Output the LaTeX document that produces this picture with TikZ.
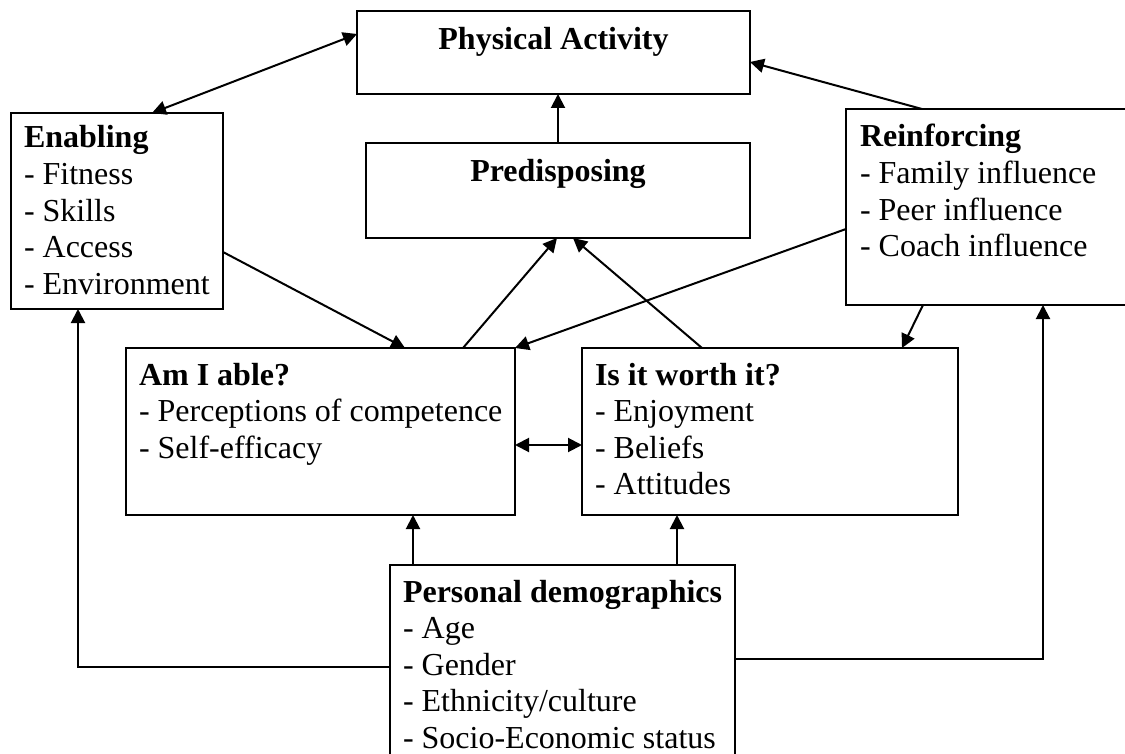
\documentclass[tikz,border=0pt]{standalone}
\usepackage{fontspec}
\setmainfont{Liberation Serif}
\usetikzlibrary{arrows.meta,calc}
\begin{document}
\begin{tikzpicture}[x=1pt,y=-1pt,
  box/.style={draw, line width=2.8pt, rectangle, inner sep=0pt, outer sep=0pt, anchor=north west},
  txt/.style={inner sep=0pt, outer sep=0pt, anchor=base west, font=\fontsize{32}{36.6}\selectfont},
  ttl/.style={inner sep=0pt, outer sep=0pt, anchor=base, font=\fontsize{32}{36.6}\selectfont\bfseries},
  conn/.style={line width=2pt, -{Triangle[length=14pt,width=14pt]}},
  dconn/.style={line width=2pt, {Triangle[length=14pt,width=14pt]}-{Triangle[length=14pt,width=14pt]}},
  plain/.style={line width=2pt}
]
\path[use as bounding box] (0,0) rectangle (1125,754);
\clip (0,0) rectangle (1125,754);

% boxes
\node[box, minimum width=393pt, minimum height=83pt] (pa) at (357,11) {};
\node[box, minimum width=384pt, minimum height=95pt] (pred) at (366,143) {};
\node[box, minimum width=212pt, minimum height=196pt] (enab) at (11,113) {};
\node[box, minimum width=300pt, minimum height=196pt] (reinf) at (846,109) {};
\node[box, minimum width=389pt, minimum height=167pt] (ami) at (126,348) {};
\node[box, minimum width=376pt, minimum height=167pt] (isw) at (582,348) {};
\node[box, minimum width=345pt, minimum height=220pt] (pd) at (390,565) {};

% texts
\node[ttl] (paT) at (553.5,50) {Physical Activity};
\node[ttl] (predT) at (558,182) {Predisposing};
\node[txt] (enabT) at (24,148) {\begin{tabular}[t]{@{}l@{}}\textbf{Enabling}\\- Fitness\\- Skills\\- Access\\- Environment\end{tabular}};
\node[txt] (reinfT) at (860,147) {\begin{tabular}[t]{@{}l@{}}\textbf{Reinforcing}\\- Family influence\\- Peer influence\\- Coach influence\end{tabular}};
\node[txt] (amiT) at (139,385) {\begin{tabular}[t]{@{}l@{}}\textbf{Am I able?}\\- Perceptions of competence\\- Self-efficacy\end{tabular}};
\node[txt] (iswT) at (595,385) {\begin{tabular}[t]{@{}l@{}}\textbf{Is it worth it?}\\- Enjoyment\\- Beliefs\\- Attitudes\end{tabular}};
\node[txt] (pdT) at (403,602) {\begin{tabular}[t]{@{}l@{}}\textbf{Personal demographics}\\- Age\\- Gender\\- Ethnicity/culture\\- Socio-Economic status\end{tabular}};

% connectors
\draw[dconn] ($(enab.north west)+(141,0)$) -- ($(pa.north west)+(0,23)$);
\draw[conn] ($(pred.north west)+(192,0)$) coordinate (c1) -- (c1 |- pa.south);
\draw[conn] ($(reinf.north west)+(76,0)$) -- ($(pa.north east)+(0,51)$);
\draw[conn] ($(enab.north east)+(0,139)$) -- ($(ami.north west)+(279,0)$);
\draw[conn] ($(ami.north west)+(337,0)$) -- ($(pred.south west)+(191,0)$);
\draw[conn] ($(isw.north west)+(120,0)$) -- ($(pred.south west)+(207,0)$);
\draw[conn] ($(reinf.north west)+(0,120)$) -- (ami.north east);
\draw[conn] ($(reinf.south west)+(77,0)$) -- ($(isw.north west)+(320,0)$);
\draw[dconn] ($(ami.north east)+(0,97)$) coordinate (c2) -- (c2 -| isw.west);
\draw[conn] ($(pd.north west)+(23,0)$) coordinate (c3) -- (c3 |- ami.south);
\draw[conn] ($(pd.north west)+(287,0)$) coordinate (c4) -- (c4 |- isw.south);
\draw[conn] ($(pd.north west)+(0,102)$) -| ($(enab.south west)+(67,0)$);
\draw[conn] ($(pd.north east)+(0,94)$) -| ($(reinf.south west)+(197,0)$);
\end{tikzpicture}
\end{document}
